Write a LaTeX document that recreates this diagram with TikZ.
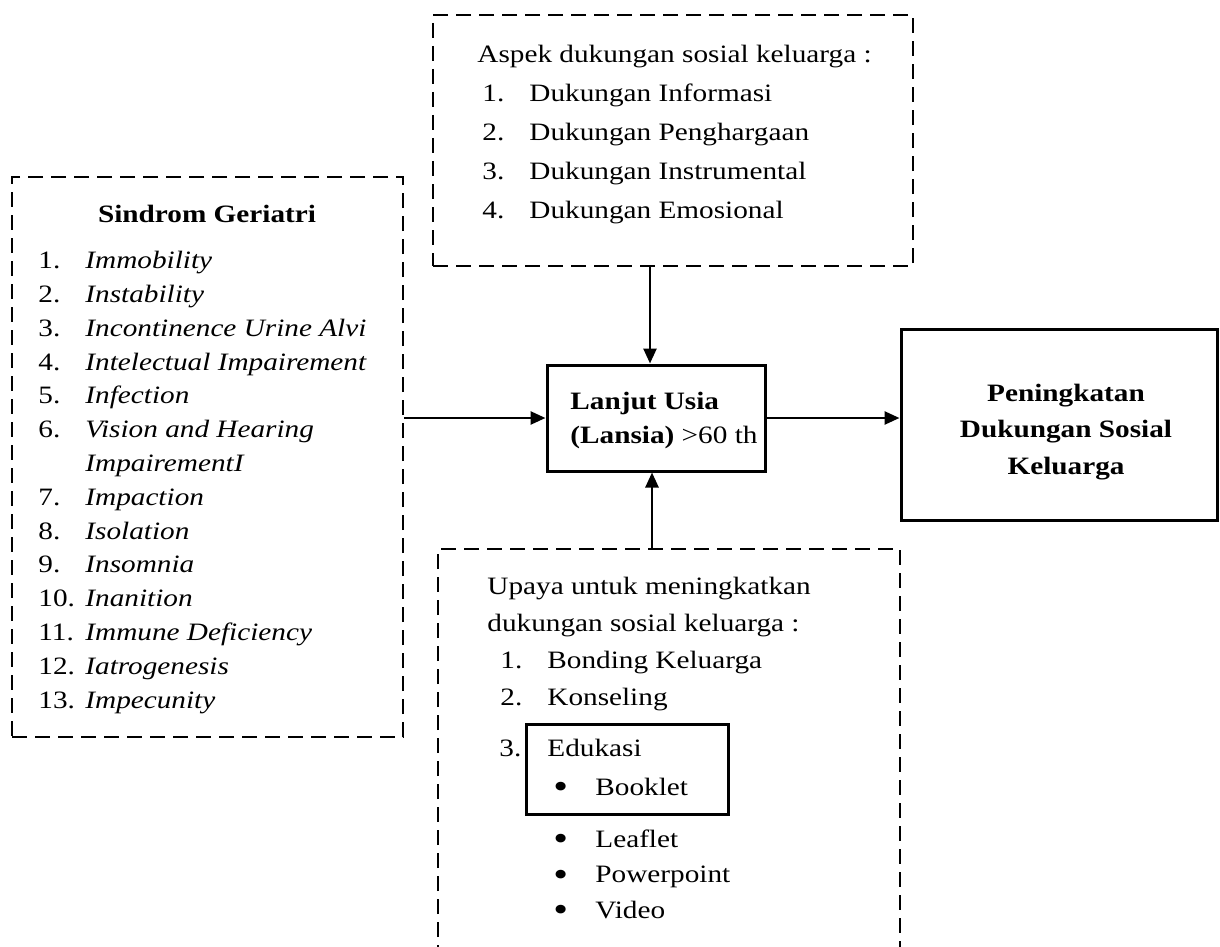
\documentclass[tikz,border=0pt]{standalone}
\usepackage{fontspec}
\setmainfont[FakeStretch=1.17]{Liberation Serif}
\usepackage{tikz}
\usetikzlibrary{arrows.meta,positioning}

\newcommand{\itm}[1]{\makebox[23.5pt][l]{#1}}
\newcommand{\blt}{\makebox[21pt][l]{\raisebox{-1.8pt}{\fontsize{18}{18}\selectfont •}}}

\tikzset{
  dashbox/.style={draw, line width=1.2pt, dash pattern=on 7.5pt off 4pt, inner sep=0pt},
  solidbox/.style={draw, line width=1.5pt, inner sep=0pt},
  listtext/.style={anchor=base west, inner sep=0pt, align=left},
  link/.style={-{Triangle[length=7.5pt,width=6.5pt]}, line width=1.3pt},
}

\begin{document}
\begin{tikzpicture}[x=0.5pt, y=-0.5pt, font=\fontsize{12.5}{14}\selectfont]
            \useasboundingbox (0,0) rectangle (1220,947);

            % Boxes
            \node[dashbox, minimum width=240pt, minimum height=125.5pt] (aspek) at (673,140.5) {};
            \node[dashbox, minimum width=195.5pt, minimum height=280pt] (sindrom) at (207.5,457) {};
            \node[solidbox, minimum width=109pt, minimum height=53pt] (lansia) at (656,418) {};
            \node[solidbox, minimum width=158pt, minimum height=95.5pt] (hasil) at (1059,424.5) {};
            \draw[line width=1.2pt, dash pattern=on 7.5pt off 4pt] (438,960) |- (900,549) -- (900,960);
            \coordinate (upaya) at (652,549);
            \node[solidbox, minimum width=101pt, minimum height=45pt] (edukasi) at (627,769) {};

            % Box texts
            \node[listtext, font=\fontsize{12.5}{17}\selectfont] (lansiatxt) at (570,443)
                {\textbf{Lanjut Usia}\\ \textbf{(Lansia)} >60 th};
            \node[inner sep=0pt, align=center, font=\fontsize{12.5}{18.25}\selectfont\bfseries] (hasiltxt) at (1066,432)
                {Peningkatan\\ Dukungan Sosial\\ Keluarga};

            % Aspek dukungan (anchored on the last baseline)
            \node[listtext, font=\fontsize{12.5}{19.4}\selectfont] (aspektxt) at (477,218)
                {Aspek dukungan sosial keluarga :\\
                 \hspace*{2.5pt}\itm{1.}Dukungan Informasi\\
                 \hspace*{2.5pt}\itm{2.}Dukungan Penghargaan\\
                 \hspace*{2.5pt}\itm{3.}Dukungan Instrumental\\
                 \hspace*{2.5pt}\itm{4.}Dukungan Emosional};

            % Sindrom geriatri
            \node[anchor=base, inner sep=0pt, font=\fontsize{12.5}{14}\selectfont\bfseries] (judul) at (207,222) {Sindrom Geriatri};
            \node[listtext, font=\fontsize{12.5}{16.9}\selectfont] (sindromtxt) at (38,708)
                {\itm{1.}\textit{Immobility}\\
                 \itm{2.}\textit{Instability}\\
                 \itm{3.}\textit{Incontinence Urine Alvi}\\
                 \itm{4.}\textit{Intelectual Impairement}\\
                 \itm{5.}\textit{Infection}\\
                 \itm{6.}\textit{Vision and Hearing}\\
                 \itm{}\textit{ImpairementI}\\
                 \itm{7.}\textit{Impaction}\\
                 \itm{8.}\textit{Isolation}\\
                 \itm{9.}\textit{Insomnia}\\
                 \itm{10.}\textit{Inanition}\\
                 \itm{11.}\textit{Immune Deficiency}\\
                 \itm{12.}\textit{Iatrogenesis}\\
                 \itm{13.}\textit{Impecunity}};

            % Upaya
            \node[listtext, font=\fontsize{12.5}{18.35}\selectfont] (upayatxt) at (487,705)
                {Upaya untuk meningkatkan\\
                 dukungan sosial keluarga :\\
                 \hspace*{6.5pt}\itm{1.}Bonding Keluarga\\
                 \hspace*{6.5pt}\itm{2.}Konseling};
            \node[listtext] (nomor) at (499,756) {3.};
            \node[listtext, font=\fontsize{12.5}{19.5}\selectfont] (edukasitxt) at (547,795)
                {Edukasi\\ \hspace*{3pt}\blt Booklet};
            \node[listtext, font=\fontsize{12.5}{17.75}\selectfont] (media) at (553,918)
                {\blt Leaflet\\ \blt Powerpoint\\ \blt Video};

            % Arrows
            \draw[link] (aspek.south -| 650,0) -- (lansia.north -| 650,0);
            \draw[link] (upaya) -- (upaya |- lansia.south);
            \draw[link] (sindrom.east |- lansia.west) -- (lansia.west);
            \draw[link] (lansia.east) -- (lansia.east -| hasil.west);
\end{tikzpicture}
\end{document}
